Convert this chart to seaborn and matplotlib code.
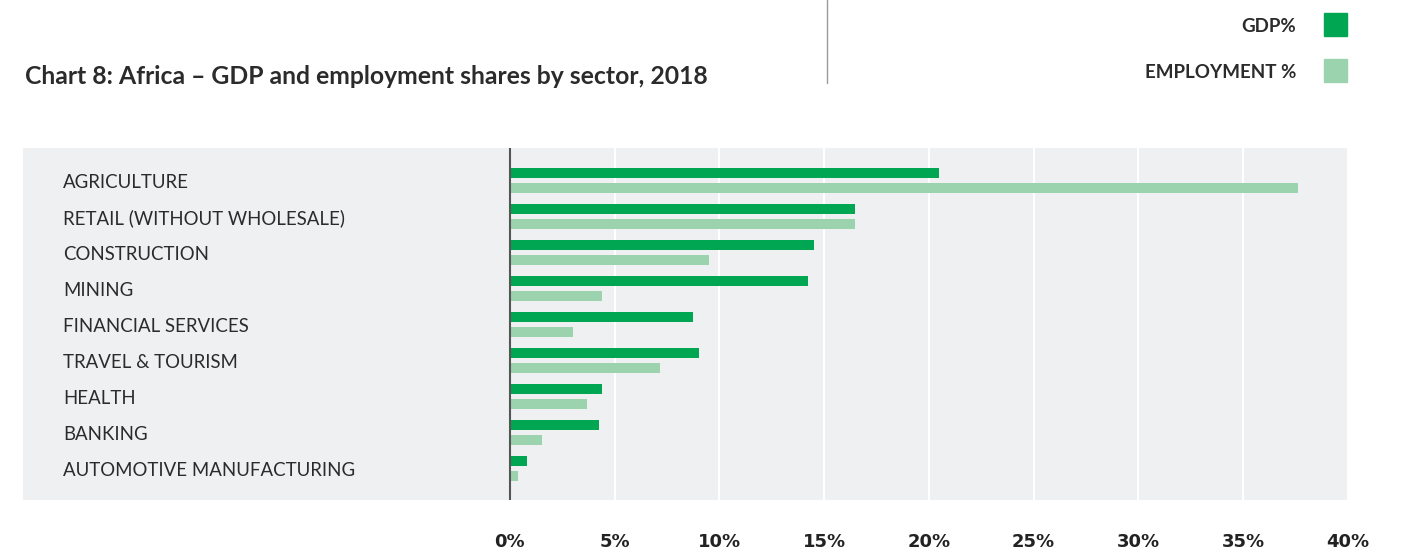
import matplotlib
matplotlib.use("Agg")
import matplotlib.pyplot as plt
import matplotlib.transforms as mtransforms
from matplotlib.patches import Rectangle
import pandas as pd
import seaborn as sns

sectors = ["AGRICULTURE", "RETAIL (WITHOUT WHOLESALE)", "CONSTRUCTION", "MINING",
           "FINANCIAL SERVICES", "TRAVEL & TOURISM", "HEALTH", "BANKING",
           "AUTOMOTIVE MANUFACTURING"]
gdp_share = [20.5, 16.45, 14.5, 14.25, 8.75, 9.05, 4.4, 4.25, 0.8]
employment_share = [37.6, 16.45, 9.5, 4.4, 3.0, 7.15, 3.7, 1.55, 0.4]
series_names = ["GDP%", "EMPLOYMENT %"]
x_ticks = [0, 5, 10, 15, 20, 25, 30, 35, 40]

gdp_green = "#00a651"
emp_green = "#9bd3ae"
panel_bg = "#eff0f2"
text_col = "#2b2b2b"

df = pd.DataFrame({
    "sector": sectors * 2,
    "share": gdp_share + employment_share,
    "series": [series_names[0]] * len(sectors) + [series_names[1]] * len(sectors),
})

sns.set_style("white")
plt.rcParams["font.family"] = ["Lato", "DejaVu Sans"]

W, H = 1401, 557
fig = plt.figure(figsize=(W / 100, H / 100), dpi=100)

# plot panel (grey box), spans from the labels to the 40% line
left_px, right_px, top_px, bot_px = 23, 1348, 148, 500
ax = fig.add_axes([left_px / W, 1 - bot_px / H, (right_px - left_px) / W, (bot_px - top_px) / H])
ax.set_facecolor(panel_bg)

sns.barplot(data=df, y="sector", x="share", hue="series", orient="h",
            palette=[gdp_green, emp_green], hue_order=series_names,
            width=0.833, gap=0.33, legend=False, ax=ax, saturation=1, linewidth=0)

ax.set_xlim(-23.23, 40)
ax.set_ylim(8.875, -0.9)
ax.set_xticks(x_ticks)
ax.set_xticklabels([f"{t}%" for t in x_ticks], fontfamily=["DejaVu Sans"],
                   fontweight="bold", fontsize=13, color="#222222")
ax.tick_params(axis="x", length=0, pad=24)
ax.set_yticks([])
ax.set_xlabel("")
ax.set_ylabel("")
ax.grid(axis="x", color="white", linewidth=1.5)
ax.set_axisbelow(True)
for s in ax.spines.values():
    s.set_visible(False)
ax.axvline(0, color="#555555", linewidth=1.5, zorder=5)

# sector labels inside the panel
trans = mtransforms.blended_transform_factory(ax.transAxes, ax.transData)
for i, name in enumerate(sectors):
    ax.text((63 - left_px) / (right_px - left_px), i + 0.06, name, transform=trans,
            ha="left", va="center", fontsize=13.4, color=text_col)

# title
fig.text(25 / W, 1 - 76 / H, "Chart 8: Africa \u2013 GDP and employment shares by sector, 2018",
         ha="left", va="center", fontsize=17.8, fontweight="bold", color=text_col)

# thin divider line at the top
fig.add_artist(plt.Line2D([827 / W, 827 / W], [1, 1 - 83 / H], color="#9a9a9a", linewidth=1))

# legend
for name, col, yc in zip(series_names, [gdp_green, emp_green], [24, 71]):
    fig.text(1296 / W, 1 - (yc + 2) / H, name, ha="right", va="center",
             fontsize=13.5, fontweight="bold", color=text_col)
    fig.add_artist(Rectangle((1324 / W, 1 - (yc + 11.5) / H), 23 / W, 23 / H,
                             transform=fig.transFigure, color=col))

fig.savefig("out.png", dpi=100, facecolor="white")
